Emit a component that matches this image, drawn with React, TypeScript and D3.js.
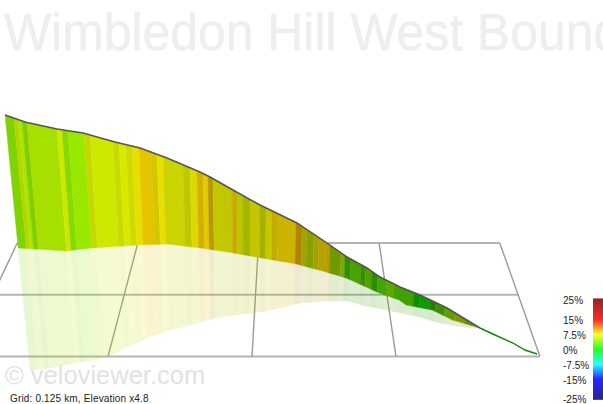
import * as d3 from "d3";

const TITLE = "Wimbledon Hill West Bound";
const CAPTION = "Grid: 0.125 km, Elevation x4.8";
const WATERMARK = "© veloviewer.com";

// Profile: distance along the ride (m) and height (projected m)
const ridgeDist = [0, 20, 52, 78, 110, 135, 162, 195, 205, 228, 255, 292, 322, 342, 362, 375, 395, 415, 442, 475, 490, 508, 520, 532];
const ridgeElev = [256, 249, 242, 238, 229, 223, 213, 199, 194, 181, 166, 148, 128, 114, 103, 94, 84, 76, 63, 43, 36, 28, 21, 17];
const baseDist = [0, 52, 79, 129, 159, 194, 228, 292, 322, 342, 362, 375, 395, 402, 428, 448, 475];
const baseElev = [123, 120, 123, 126, 127, 123, 118, 107, 99, 93, 84, 78, 71, 66, 61, 51, 43];
const shadowDist = [0, 23, 87, 133, 156, 192, 213, 263, 297, 320, 344, 363, 383, 416, 436, 459, 475];
const shadowElev = [1, 3, 14, 33, 40, 49, 54, 60, 68, 70, 70, 65, 61, 54, 48, 44, 43];

// Gradient stripes: where each one ends (m), its gradient (%) and how lit it looks (0-1)
const bandEnds = [9, 13, 17, 22, 52, 57, 63, 79, 85, 108, 114, 121, 127, 134, 146, 152, 158, 178, 185, 192, 198, 203, 208, 227, 232, 238, 245, 255, 261, 267, 273, 291, 297, 302, 309, 314, 321, 325, 336, 340, 346, 356, 361, 367, 373, 382, 389, 409, 415, 425, 431, 440, 450, 460, 475];
const bandGrades = [4.5, 6.5, 5.4, 4.8, 5.6, 6.6, 4.7, 4.9, 6.8, 6.7, 6.8, 7.0, 7.05, 7.7, 8.6, 7.95, 7.7, 7.2, 7.2, 7.6, 8.8, 8.2, 8.8, 7.35, 8.6, 7.2, 6.8, 7.5, 7.15, 7.5, 8.4, 8.4, 9.4, 7.5, 6.4, 7.5, 8.3, 8.9, 5.5, 5.7, 2.5, 3.5, 2.9, 3.75, 2.25, 2.85, 4.3, 3, 0.85, 0.8, 1.9, 3.3, 4.5, 6.3, 5];
const bandLight = [0.83, 0.83, 0.91, 0.8, 0.88, 0.91, 0.85, 0.91, 0.85, 0.91, 0.86, 0.91, 0.86, 0.9, 0.9, 0.83, 0.9, 0.83, 0.78, 0.86, 0.83, 0.88, 0.72, 0.78, 0.78, 0.77, 0.71, 0.77, 0.69, 0.78, 0.77, 0.8, 0.69, 0.64, 0.63, 0.64, 0.71, 0.75, 0.6, 0.66, 0.565, 0.63, 0.565, 0.63, 0.55, 0.66, 0.66, 0.63, 0.55, 0.6, 0.5, 0.565, 0.63, 0.6, 0.565];

// Legend
const legendTicks = [25, 15, 7.5, 0, -7.5, -15, -25];
const legendColors = ["#800000", "#ff0000", "#ffff00", "#00ff00", "#00ffff", "#0000ff", "#000080"];

// Grid in km
const gridCols = [0, 0.125, 0.25, 0.375, 0.5];
const gridRows = [0, 0.125, 0.25];

const W = 603;
const H = 404;
const FONT = "'Liberation Sans', Arial, sans-serif";

const x = d3.scaleLinear().domain([0, 535]).range([5, 540]);
const y = d3.scaleLinear().domain([0, 256]).range([371, 115]);
const ridge = d3.scaleLinear().domain(ridgeDist).range(ridgeElev);
const base = d3.scaleLinear().domain(baseDist).range(baseElev);
const shadow = d3.scaleLinear().domain(shadowDist).range(shadowElev);
const gradeColor = d3.scaleLinear<string>().domain(legendTicks).range(legendColors).interpolate(d3.interpolateRgb);
const legendY = d3.scaleLinear().domain([-25, 25]).range([399, 299]);

// wall uprights lean towards a nadir point below the picture
const NADIR_X = 250;
const NADIR_Y = 2600;
function pt(dist: number, elev: (d: number) => number): [number, number] {
  const topX = x(dist);
  const topY = y(ridge(dist));
  const py = y(elev(dist));
  return [topX + ((NADIR_X - topX) * (py - topY)) / (NADIR_Y - topY), py];
}

// ground grid goes through a simple perspective
const gridX = d3.scaleLinear().domain([0, 0.5]).range([-36, 540]);
const depth = (km: number) => 1 / (1 + km / 1.29);
const VP_X = 292;
const VP_Y = -343;
const project = (c: number, r: number): [number, number] => [
  VP_X + (gridX(c) - VP_X) * depth(r),
  VP_Y + (356.5 - VP_Y) * depth(r),
];

const line = d3.line();

function knotsBetween(knots: number[], a: number, b: number) {
  return [a, ...knots.filter((k) => k > a && k < b), b];
}

function bandPath(
  i: number,
  upper: (d: number) => number,
  upperKnots: number[],
  lower: (d: number) => number,
  lowerKnots: number[],
) {
  const d0 = i === 0 ? 0 : bandEnds[i - 1];
  const d1 = bandEnds[i];
  const top = knotsBetween(upperKnots, d0, d1).map((d) => pt(d, upper));
  const bottom = knotsBetween(lowerKnots, d0, d1).reverse().map((d) => pt(d, lower));
  return line([...top, ...bottom]) + "Z";
}

function bandColor(i: number) {
  const c = d3.rgb(gradeColor(bandGrades[i]));
  const k = bandLight[i];
  return d3.rgb(c.r * k, c.g * k, c.b * k).formatHex();
}

export default function App() {
  const steps = d3.range(0, 101).map((i) => -25 + i * 0.5);
  const lastWall = bandEnds[bandEnds.length - 1];
  const wallLine = line(ridgeDist.filter((d) => d <= lastWall).map((d) => [x(d), y(ridge(d))]));
  const tailLine = line(ridgeDist.filter((d) => d >= lastWall).map((d) => [x(d), y(ridge(d))]));

  return (
    <svg
      width={W}
      height={H}
      viewBox={`0 0 ${W} ${H}`}
      style={{ position: "fixed", left: 0, top: 0, background: "#fff" }}
    >
      <text
        transform="translate(4,50) scale(0.978,1)"
        fontFamily={FONT}
        fontSize={51}
        fill="#eeeeee"
        stroke="#eeeeee"
        strokeWidth={0.5}
      >
        {TITLE}
      </text>

      {/* ground grid */}
      <g fill="none">
        {gridRows.map((r) => (
          <path key={r} d={line([project(0, r), project(0.5, r)]) ?? ""} stroke="#b4b4b4" strokeWidth={2} />
        ))}
        {gridCols.map((c) => (
          <path key={c} d={line([project(c, 0), project(c, 0.25)]) ?? ""} stroke="#999999" strokeWidth={1.4} />
        ))}
      </g>

      {/* reflection */}
      <g opacity={0.18}>
        {bandEnds.map((_, i) => {
          const c = bandColor(i);
          return (
            <path key={i} d={bandPath(i, base, baseDist, shadow, shadowDist)} fill={c} stroke={c} strokeWidth={0.4} />
          );
        })}
      </g>

      {/* wall */}
      <g>
        {bandEnds.map((_, i) => {
          const c = bandColor(i);
          return (
            <path key={i} d={bandPath(i, ridge, ridgeDist, base, baseDist)} fill={c} stroke={c} strokeWidth={0.4} />
          );
        })}
      </g>
      <path d={wallLine ?? ""} fill="none" stroke="#555555" strokeWidth={1.5} />
      <path d={tailLine ?? ""} fill="none" stroke="#0a8a0a" strokeWidth={1.4} />

      <text x={5} y={384} fontFamily={FONT} fontSize={25.5} fill="#e2e2e2">
        {WATERMARK}
      </text>
      <text x={10} y={402} fontFamily={FONT} fontSize={10} letterSpacing={0.16} fill="#222222">
        {CAPTION}
      </text>

      {/* gradient legend */}
      {steps.map((s) => (
        <rect key={s} x={593} width={10} y={legendY(s) - 0.5} height={1.2} fill={gradeColor(s)} />
      ))}
      {legendTicks.map((t) => (
        <text
          key={t}
          x={563}
          y={t === -25 ? 403 : legendY(t) + 5}
          fontFamily={FONT}
          fontSize={10}
          fill="#222222"
        >
          {t}%
        </text>
      ))}
    </svg>
  );
}
